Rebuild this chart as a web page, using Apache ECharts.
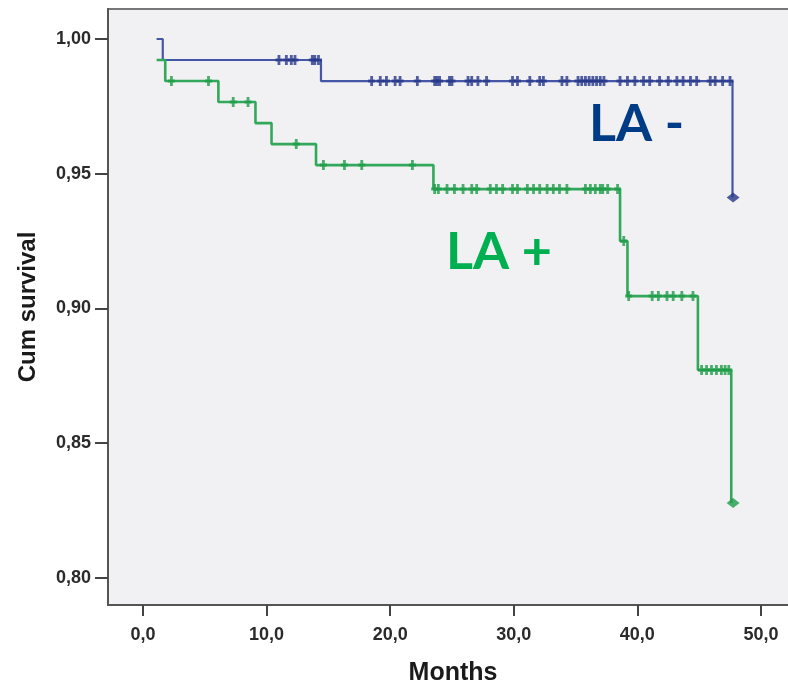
<!DOCTYPE html>
<html>
<head>
<meta charset="utf-8">
<script src="https://cdn.jsdelivr.net/npm/echarts@6/dist/echarts.min.js"></script>
<style>
html,body{margin:0;padding:0;background:#fff;}
#chart{width:788px;height:683px;}
</style>
</head>
<body>
<div id="chart"></div>
<script>
// ---- Data ----
// LA - (blue): event times (month) and survival after each step
const laNegTimes    = [1.1, 1.6, 14.4, 47.7];
const laNegSurvival = [1.000, 0.9922, 0.9844, 0.9412];
const laNegCensored = [11.0, 11.6, 12.0, 12.3, 13.7, 13.9, 14.2,
  18.5, 19.2, 19.7, 20.4, 20.8, 22.2, 23.6, 23.8, 24.0, 24.8, 25.0, 26.3, 26.6, 27.1, 27.8,
  29.9, 30.3, 31.3, 32.1, 32.4, 33.9, 34.3, 35.2, 35.5, 35.8, 36.1, 36.4, 36.7, 37.0, 37.3,
  38.6, 39.2, 39.8, 40.5, 41.0, 41.8, 42.5, 43.2, 43.7, 44.3, 44.8, 45.9, 46.3, 46.9, 47.5];
const laNegLast = [47.75, 0.9412];

// LA + (green)
const laPosTimes    = [1.1, 1.8, 6.1, 9.1, 10.4, 14.0, 23.5, 38.6, 39.2, 44.9, 47.6];
const laPosSurvival = [0.9922, 0.9844, 0.9766, 0.9688, 0.9610, 0.9532, 0.9443, 0.9250, 0.9046, 0.8772, 0.8278];
const laPosCensored = [2.3, 5.3, 7.3, 8.5, 12.4, 14.6, 16.3, 17.7, 21.8,
  23.6, 23.9, 24.6, 25.2, 25.9, 26.6, 27.0, 28.1, 28.6, 29.1, 29.9, 30.3, 31.1, 31.6, 32.1,
  32.7, 33.2, 33.7, 34.3, 35.8, 36.2, 36.6, 37.0, 37.2, 37.6, 38.4, 38.9,
  39.3, 41.2, 41.7, 42.4, 42.9, 43.6, 44.5, 45.2, 45.6, 46.0, 46.4, 46.8, 47.1, 47.4];
const laPosLast = [47.75, 0.8278];

const xTicks = [0, 10, 20, 30, 40, 50];
const yTicks = [0.80, 0.85, 0.90, 0.95, 1.00];

// ---- helpers ----
function stepPairs(times, surv) { return times.map((t, i) => [t, surv[i]]); }
function survAt(times, surv, t) {
  let s = surv[0];
  for (let i = 0; i < times.length; i++) { if (times[i] <= t) s = surv[i]; }
  return s;
}
function censorPairs(times, surv, cens) { return cens.map(t => [t, survAt(times, surv, t)]); }

const plusPath = 'path://M-1.2,-5H1.2V-1.5H3V1.5H1.2V5H-1.2V1.5H-3V-1.5H-1.2Z';
const diamondPath = 'path://M0,-5L6,0L0,5L-6,0Z';

const blueLine = '#4656a6', blueMark = '#27378a';
const greenLine = '#32a85a', greenMark = '#1e9c48';

const chart = echarts.init(document.getElementById('chart'), null, {renderer: 'canvas'});
const axisFont = {fontFamily: 'Liberation Sans, Arial, sans-serif', fontWeight: 'bold', fontSize: 18, color: '#2a2a2a'};

chart.setOption({
  animation: false,
  backgroundColor: '#ffffff',
  grid: {left: 108, top: 9, right: -10, bottom: 78, outerBoundsMode: 'none', containLabel: false,
         show: true, backgroundColor: '#f1f1f3', borderColor: '#777777', borderWidth: 2},
  xAxis: {
    type: 'value', min: -2.832, max: 53.0,
    name: 'Months', nameLocation: 'middle', nameGap: 56,
    nameTextStyle: {fontFamily: 'Liberation Sans, Arial, sans-serif', fontWeight: 'bold', fontSize: 25, color: '#1a1a1a'},
    axisLine: {show: true, onZero: false, lineStyle: {color: '#555555', width: 2}},
    axisTick: {show: true, customValues: xTicks, length: 11, lineStyle: {color: '#444444', width: 2}},
    axisLabel: Object.assign({customValues: xTicks, margin: 21, formatter: v => v.toFixed(1).replace('.', ',')}, axisFont),
    splitLine: {show: false}
  },
  yAxis: {
    type: 'value', min: 0.78998, max: 1.01113,
    name: 'Cum survival', nameLocation: 'middle', nameGap: 68, nameRotate: 90,
    nameTextStyle: {fontFamily: 'Liberation Sans, Arial, sans-serif', fontWeight: 'bold', fontSize: 24, color: '#1a1a1a'},
    axisLine: {show: true, onZero: false, lineStyle: {color: '#555555', width: 2}},
    axisTick: {show: true, customValues: yTicks, length: 13, lineStyle: {color: '#444444', width: 2}},
    axisLabel: Object.assign({customValues: yTicks, margin: 17, formatter: v => v.toFixed(2).replace('.', ',')}, axisFont),
    splitLine: {show: false}
  },
  series: [
    {type: 'line', name: 'LA -', step: 'end', showSymbol: false, data: stepPairs(laNegTimes, laNegSurvival),
     lineStyle: {color: blueLine, width: 2.2}, z: 2},
    {type: 'scatter', data: censorPairs(laNegTimes, laNegSurvival, laNegCensored), symbol: plusPath, symbolSize: [7, 10],
     itemStyle: {color: blueMark}, z: 3},
    {type: 'scatter', data: [laNegLast], symbol: diamondPath, symbolSize: [13, 10], itemStyle: {color: blueMark}, z: 3},
    {type: 'line', name: 'LA +', step: 'end', showSymbol: false, data: stepPairs(laPosTimes, laPosSurvival),
     lineStyle: {color: greenLine, width: 2.6}, z: 4},
    {type: 'scatter', data: censorPairs(laPosTimes, laPosSurvival, laPosCensored), symbol: plusPath, symbolSize: [7, 10],
     itemStyle: {color: greenMark}, z: 5},
    {type: 'scatter', data: [laPosLast], symbol: diamondPath, symbolSize: [13, 10], itemStyle: {color: greenMark}, z: 5}
  ],
  graphic: [
    {type: 'text', left: 589, top: 98, z: 10,
     style: {text: 'LA -', fill: '#003c85', font: 'bold 52px Lato, "Open Sans", sans-serif'}},
    {type: 'text', left: 446, top: 226, z: 10,
     style: {text: 'LA +', fill: '#00b050', font: 'bold 52px Lato, "Open Sans", sans-serif'}}
  ]
});
</script>
</body>
</html>
